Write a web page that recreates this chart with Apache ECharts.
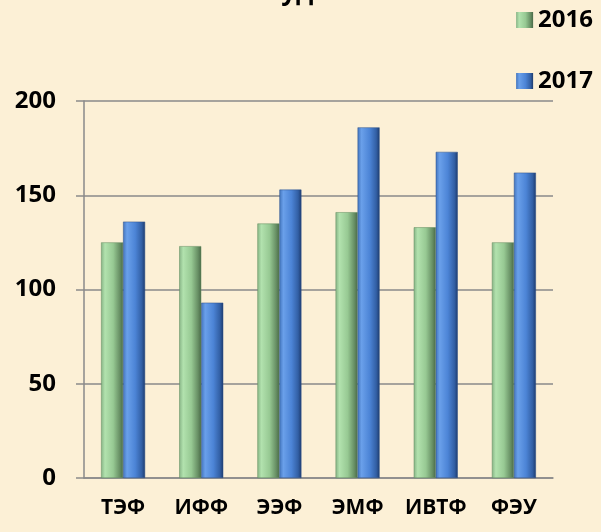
<!DOCTYPE html>
<html>
<head>
<meta charset="utf-8">
<script src="https://cdn.jsdelivr.net/npm/echarts@6/dist/echarts.min.js"></script>
<style>
  html, body { margin: 0; padding: 0; background: #fcf0d6; }
  #chart { width: 601px; height: 532px; }
</style>
</head>
<body>
<div id="chart"></div>
<script>
// данные
const categories = ['ТЭФ', 'ИФФ', 'ЭЭФ', 'ЭМФ', 'ИВТФ', 'ФЭУ'];
const values2016 = [125, 123, 135, 141, 133, 125];
const values2017 = [136, 93, 153, 186, 173, 162];
const yTicks = [0, 50, 100, 150, 200];

const font = '"Open Sans", "DejaVu Sans", sans-serif';

const greenFill = new echarts.graphic.LinearGradient(0, 0, 1, 0, [
  { offset: 0, color: '#86b385' },
  { offset: 0.18, color: '#b2e2ae' },
  { offset: 0.55, color: '#97c993' },
  { offset: 0.85, color: '#678f64' },
  { offset: 1, color: '#4a6a48' }
]);
const blueFill = new echarts.graphic.LinearGradient(0, 0, 1, 0, [
  { offset: 0, color: '#4274bd' },
  { offset: 0.18, color: '#6aa0ea' },
  { offset: 0.55, color: '#4c84d6' },
  { offset: 0.85, color: '#325fa4' },
  { offset: 1, color: '#1d3b6e' }
]);

const chart = echarts.init(document.getElementById('chart'));
const option = {
  backgroundColor: '#fcf0d6',
  animation: false,
  title: {
    text: 'Количество студентов',
    left: 80,
    top: -25,
    textStyle: { fontFamily: font, fontWeight: 'bold', fontSize: 26, color: '#000' }
  },
  legend: {
    orient: 'vertical',
    right: 3,
    top: 3,
    itemGap: 37,
    itemWidth: 17,
    itemHeight: 16,
    itemStyle: { borderWidth: 0 },
    icon: 'rect',
    textStyle: { fontFamily: font, fontWeight: 'bold', fontSize: 24, color: '#000' },
    data: ['2016', '2017']
  },
  grid: { left: 84, right: 48, top: 101, bottom: 54 },
  xAxis: {
    type: 'category',
    data: categories,
    axisLine: { lineStyle: { color: '#8a8a8a', width: 1.5 } },
    axisTick: { length: 8, lineStyle: { color: '#8a8a8a', width: 1.5 } },
    axisLabel: { interval: 0, hideOverlap: false, margin: 20, fontFamily: font, fontWeight: 'bold', fontSize: 21, color: '#000' }
  },
  yAxis: {
    type: 'value',
    min: yTicks[0],
    max: yTicks[yTicks.length - 1],
    interval: yTicks[1] - yTicks[0],
    axisLine: { show: true, lineStyle: { color: '#8a8a8a', width: 1.5 } },
    axisTick: { show: true, length: 8, lineStyle: { color: '#8a8a8a', width: 1.5 } },
    splitLine: { lineStyle: { color: '#8a8a8a', width: 1.5 } },
    axisLabel: { margin: 28, fontFamily: font, fontWeight: 'bold', fontSize: 24, color: '#000' }
  },
  series: [
    {
      name: '2016',
      type: 'bar',
      data: values2016,
      barWidth: 22,
      barGap: '0%',
      itemStyle: { color: greenFill, borderColor: '#5f8a5c', borderWidth: 0.5 }
    },
    {
      name: '2017',
      type: 'bar',
      data: values2017,
      barWidth: 22,
      barGap: '0%',
      itemStyle: { color: blueFill, borderColor: '#2b4f88', borderWidth: 0.5 }
    }
  ]
};
chart.setOption(option);
</script>
</body>
</html>
